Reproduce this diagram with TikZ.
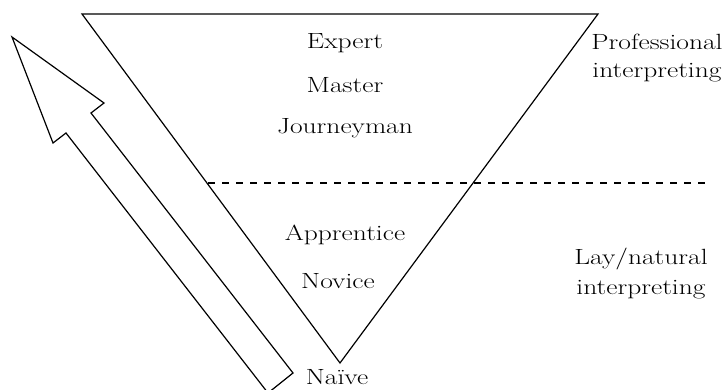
\documentclass[tikz,border=0pt]{standalone}
\begin{document}
\begin{tikzpicture}[x=1pt,y=-1pt,
  outline/.style={draw=black,line width=1.2pt,line join=miter},
  label/.style={font=\fontsize{22}{26}\selectfont,inner sep=0pt,anchor=center,
    xscale=1.25,transform shape},
  side/.style={label,align=center}]
\useasboundingbox (0,0) rectangle (724,390);
\clip (0,0) rectangle (724,390);
% inverted triangle of expertise levels
\coordinate (tl) at (82,14);
\coordinate (tr) at (598,14);
\coordinate (ap) at (340,363);
\draw[outline] (tl) -- (tr) -- (ap) -- cycle;
% boundary between lay and professional interpreting
\coordinate (dl) at (208,183);
\coordinate (dr) at (707,183);
\draw[line width=1.2pt,dash pattern=on 7pt off 7pt] (dl) -- (dr);
% upward block arrow
\draw[outline,fill=white] (12,37) -- (104,103) -- (91,113) -- (293,373)
  -- (268,393) -- (66,133) -- (53,143) -- cycle;
% level labels
\node[label] (expert) at (345,43) {Expert};
\node[label] (master) at (345,85) {Master};
\node[label] (journey) at (345,128) {Journeyman};
\node[label] (appr) at (345,235) {Apprentice};
\node[label] (novice) at (338,281) {Novice};
\node[label] (naive) at (337,377) {Naïve};
% side labels
\node[side] (prof) at (657,58) {Professional\\[2pt]interpreting};
\node[side] (lay) at (641,274) {Lay/natural\\[4pt]interpreting};
\end{tikzpicture}
\end{document}
